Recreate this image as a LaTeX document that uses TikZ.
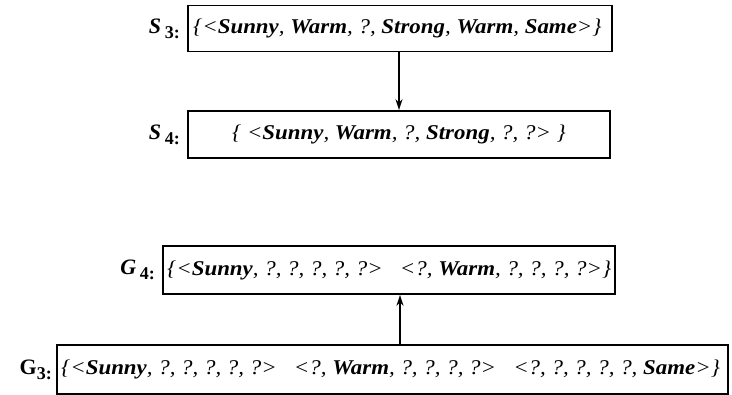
\documentclass[tikz,border=0pt]{standalone}
\usepackage{fontspec}
\setmainfont{Liberation Serif}
\newfontfamily\boxfont[FakeStretch=1.09]{Liberation Serif}
\usetikzlibrary{arrows.meta}
\newcommand{\bw}[1]{\textbf{#1}}
\tikzset{
  setbox/.style={draw, line width=1.8pt, inner sep=0pt},
  settext/.style={inner sep=0pt, font=\boxfont\fontsize{21}{24}\selectfont\itshape},
  lbl/.style={anchor=east, inner sep=0pt, font=\fontsize{22}{25}\selectfont\bfseries},
  conn/.style={line width=1.8pt, -{Stealth[length=11pt,width=7pt]}}
}
\begin{document}
\begin{tikzpicture}[x=1pt,y=-1pt]
\useasboundingbox (0,0) rectangle (732,395);
% S boxes
\node[setbox, minimum width=424pt, minimum height=46pt] (s3) at (400,28.5) {};
\node[settext, anchor=west] (s3t) at (193,28.5) {\{<\bw{Sunny}, \bw{Warm}, ?, \bw{Strong}, \bw{Warm}, \bw{Same}>\}};
\node[lbl] (s3l) at (180,28.5) {\textit{S}\,\raisebox{-0.5ex}{\fontsize{18}{20}\selectfont 3:}};

\node[setbox, minimum width=422pt, minimum height=47pt] (s4) at (399,134.5) {};
\node[settext] (s4t) at (399,134.5) {\{ <\bw{Sunny}, \bw{Warm}, ?, \bw{Strong}, ?, ?> \}};
\node[lbl] (s4l) at (180,134.5) {\textit{S}\,\raisebox{-0.5ex}{\fontsize{18}{20}\selectfont 4:}};

% G boxes
\node[setbox, minimum width=452pt, minimum height=48pt] (g4) at (389,270) {};
\node[settext, anchor=west] (g4t) at (167,270) {\{<\bw{Sunny}, ?, ?, ?, ?, ?>\ \ \ <?, \bw{Warm}, ?, ?, ?, ?>\}};
\node[lbl] (g4l) at (155,270) {\textit{G}\,\raisebox{-0.5ex}{\fontsize{18}{20}\selectfont 4:}};

\node[setbox, minimum width=671pt, minimum height=49pt] (g3) at (392.5,369.5) {};
\node[settext, anchor=west] (g3t) at (61,369.5) {\{<\bw{Sunny}, ?, ?, ?, ?, ?>\ \ \ <?, \bw{Warm}, ?, ?, ?, ?>\ \ \ <?, ?, ?, ?, ?, \bw{Same}>\}};
\node[lbl] (g3l) at (52,369.5) {G\raisebox{-0.5ex}{\fontsize{18}{20}\selectfont 3:}};

% connectors
\draw[conn] (s3.south -| 399,0) -- (s4.north -| 399,0);
\draw[conn] (g3.north -| 400,0) -- (g4.south -| 400,0);
\end{tikzpicture}
\end{document}
